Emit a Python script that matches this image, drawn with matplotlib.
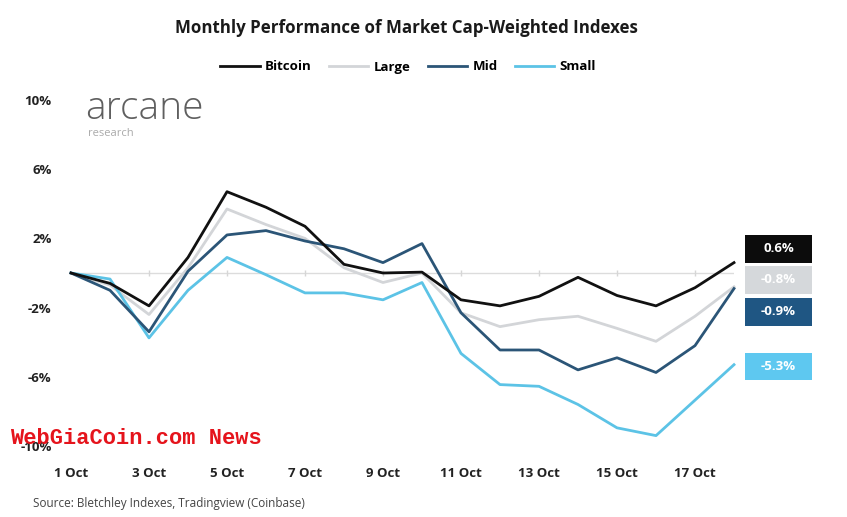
import matplotlib
matplotlib.use("Agg")
import matplotlib.pyplot as plt
from matplotlib.lines import Line2D
from matplotlib.patches import Rectangle

plt.rcParams["font.family"] = ["Open Sans", "DejaVu Sans"]

days = list(range(1, 19))
tick_days = [1, 3, 5, 7, 9, 11, 13, 15, 17]
tick_labels = [f"{d} Oct" for d in tick_days]
yticks = [10, 6, 2, -2, -6, -10]

bitcoin = [0, -0.6, -1.9, 0.9, 4.7, 3.8, 2.7, 0.5, 0.0, 0.05, -1.55, -1.9, -1.35, -0.25, -1.3, -1.9, -0.85, 0.6]
large = [0, -0.7, -2.4, 0.3, 3.7, 2.8, 2.0, 0.3, -0.55, 0.0, -2.3, -3.1, -2.7, -2.5, -3.2, -3.95, -2.5, -0.8]
mid = [0, -1.0, -3.4, 0.1, 2.2, 2.45, 1.85, 1.4, 0.6, 1.7, -2.3, -4.45, -4.45, -5.6, -4.9, -5.75, -4.2, -0.9]
small = [0, -0.35, -3.75, -1.0, 0.9, -0.1, -1.15, -1.15, -1.55, -0.55, -4.65, -6.45, -6.55, -7.6, -8.95, -9.4, -7.35, -5.3]

names = ["Bitcoin", "Large", "Mid", "Small"]
colors = ["#111111", "#d3d5d8", "#2b5577", "#5cc3e6"]
box_colors = ["#0c0c0c", "#d5d8db", "#1f5683", "#5ec8f0"]
end_labels = ["0.6%", "-0.8%", "-0.9%", "-5.3%"]
end_values = [0.6, -0.8, -0.9, -5.3]
box_shift = [0.8, 0.4, -1.35, -0.1]  # nudges so the end boxes don't overlap

W, H = 847, 517
fig = plt.figure(figsize=(W / 100, H / 100), dpi=100)
ax = fig.add_axes([71 / W, (H - 446) / H, (734 - 71) / W, (446 - 100) / H])
ax.set_xlim(1, 18)
ax.set_ylim(-10, 10)

ax.axhline(0, color="#dcdcdc", lw=1, zorder=1)
ax.plot(tick_days[1:], [0] * (len(tick_days) - 1), ls="none", marker="|", ms=5,
        color="#d6d6d6", zorder=1)

for series, c in zip([large, small, mid, bitcoin], [colors[1], colors[3], colors[2], colors[0]]):
    ax.plot(days, series, color=c, lw=2, zorder=3, clip_on=False)

for s in ax.spines.values():
    s.set_visible(False)
ax.set_xticks(tick_days)
ax.set_xticklabels(tick_labels, fontsize=9.5, fontweight="bold", color="#222222")
ax.set_yticks(yticks)
ax.set_yticklabels([f"{v}%" for v in yticks], fontsize=9.5, fontweight="bold", color="#222222")
ax.tick_params(axis="x", length=0, pad=15)
ax.tick_params(axis="y", length=0, pad=14)

# end-value boxes (fixed size, right of the plot)
bw, bh = 1.72, 1.6   # in data units (~67 x 28 px)
x0 = 18.28
for lab, v, dv, bc in zip(end_labels, end_values, box_shift, box_colors):
    yc = v + dv
    ax.add_patch(Rectangle((x0, yc - bh / 2), bw, bh, fc=bc, ec="none", clip_on=False))
    ax.text(x0 + bw / 2, yc, lab, ha="center", va="center", fontsize=9.5,
            fontweight="bold", color="white", clip_on=False)

fig.text(406 / W, 1 - 28 / H, "Monthly Performance of Market Cap-Weighted Indexes",
         ha="center", va="center", fontsize=12.2, fontweight="bold", color="#1a1a1a")

handles = [Line2D([0], [0], color=c, lw=2) for c in colors]
fig.legend(handles, names, loc="center", bbox_to_anchor=(408 / W, 1 - 67 / H), ncol=4,
           frameon=False, handlelength=3.0, handletextpad=0.4, columnspacing=1.3,
           prop=dict(size=9.5, weight="bold"))

# logo
fig.text(85 / W, 1 - 109 / H, "arcane", fontsize=28, color="#5f5f5f", va="center", ha="left",
         fontweight="light")
fig.text(88 / W, 1 - 133 / H, "research", fontsize=8, color="#aaaaaa", va="center", ha="left")

fig.text(33 / W, 1 - 503 / H, "Source: Bletchley Indexes, Tradingview (Coinbase)",
         fontsize=8.5, color="#444444", va="center", ha="left")

fig.text(10 / W, 1 - 439 / H, "WebGiaCoin.com News", fontsize=15.8, fontweight="bold",
         color="#e5141c", family=["Liberation Mono", "DejaVu Sans Mono"], va="center", ha="left",
         zorder=10)

fig.savefig("out.png", dpi=100)
